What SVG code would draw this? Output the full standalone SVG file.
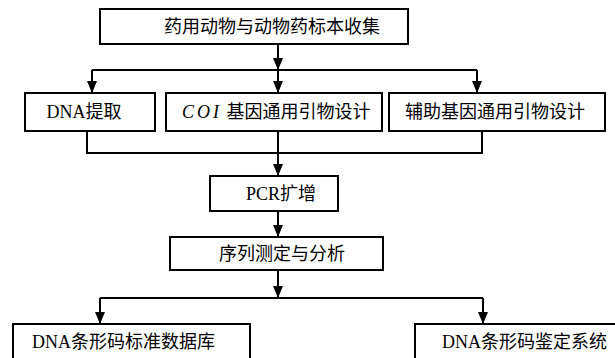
<svg xmlns="http://www.w3.org/2000/svg" width="615" height="358" viewBox="0 0 615 358">
<defs>
<marker id="ah" viewBox="0 0 12 10" refX="12" refY="5" markerWidth="6" markerHeight="5" markerUnits="strokeWidth" orient="auto">
<path d="M0,0 L12,5 L0,10 z" fill="#000"/>
</marker>
<style>
.box{fill:#fff;stroke:#000;stroke-width:2}
.t{font-family:"Liberation Serif","Noto Sans CJK SC",serif;font-size:18px;fill:#000}
.ln{fill:none;stroke:#000;stroke-width:2}
.ar{fill:none;stroke:#000;stroke-width:2;marker-end:url(#ah)}
</style>
</defs>
<rect width="615" height="358" fill="#fff"/>
<g id="connectors">
<path class="ar" d="M278,44 V70"/>
<path class="ln" d="M92,70 H477"/>
<path class="ar" d="M92,70 V93"/>
<path class="ar" d="M278,70 V93"/>
<path class="ar" d="M477,70 V93"/>
<path class="ln" d="M87,131 V153 H482 V131"/>
<path class="ar" d="M278,131 V176"/>
<path class="ar" d="M278,211 V237"/>
<path class="ar" d="M278,270 V298"/>
<path class="ln" d="M100,298 H483"/>
<path class="ar" d="M100,298 V324"/>
<path class="ar" d="M483,298 V324"/>
</g>
<g id="n1"><rect class="box" x="100" y="9" width="308" height="35"/><text class="t" x="272" y="33" text-anchor="middle">药用动物与动物药标本收集</text></g>
<g id="n2"><rect class="box" x="25" y="93" width="130" height="38"/><text class="t" x="84" y="118" text-anchor="middle">DNA提取</text></g>
<g id="n3"><rect class="box" x="166" y="93" width="216" height="38"/><text class="t" x="182" y="118"><tspan font-style="italic" letter-spacing="3">COI</tspan> 基因通用引物设计</text></g>
<g id="n4"><rect class="box" x="389" y="93" width="216" height="38"/><text class="t" x="495" y="118" text-anchor="middle">辅助基因通用引物设计</text></g>
<g id="n5"><rect class="box" x="210" y="176" width="128" height="35"/><text class="t" x="281" y="200" text-anchor="middle">PCR扩增</text></g>
<g id="n6"><rect class="box" x="170" y="237" width="213" height="33"/><text class="t" x="282" y="260" text-anchor="middle">序列测定与分析</text></g>
<g id="n7"><rect class="box" x="13" y="324" width="237" height="50"/><text class="t" x="32" y="348">DNA条形码标准数据库</text></g>
<g id="n8"><rect class="box" x="415" y="324" width="210" height="50"/><text class="t" x="442" y="348">DNA条形码鉴定系统</text></g>
</svg>
